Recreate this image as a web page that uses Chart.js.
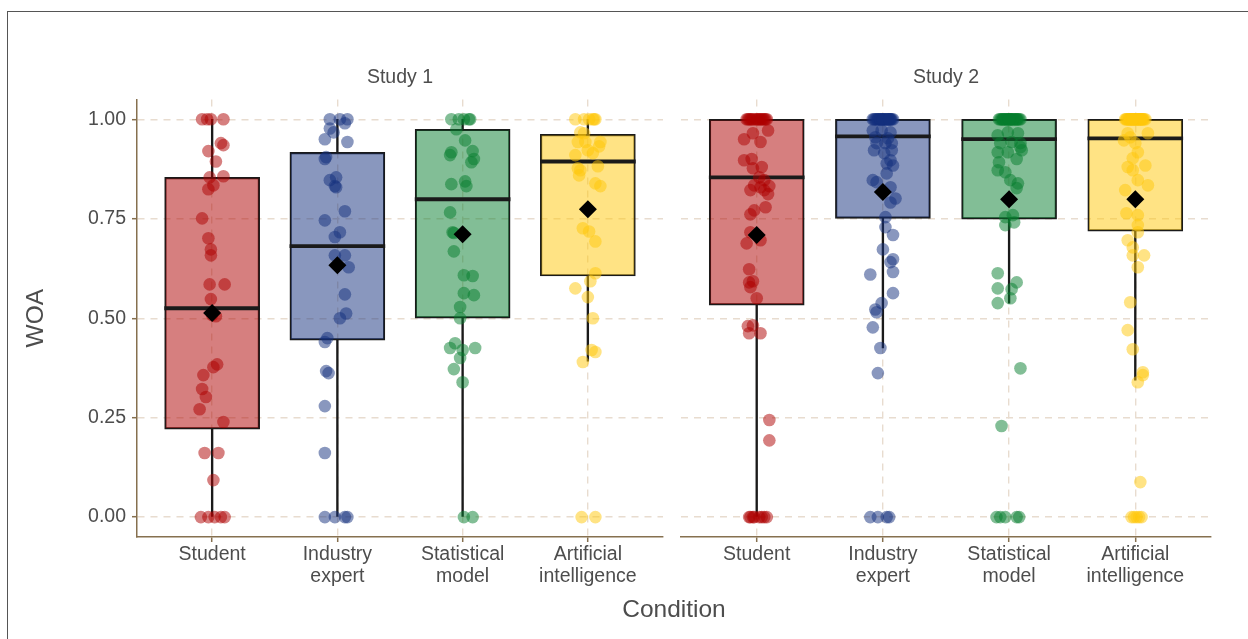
<!DOCTYPE html>
<html>
<head>
<meta charset="utf-8">
<title>WOA by condition</title>
<script src="https://cdn.jsdelivr.net/npm/chart.js@4.4.1/dist/chart.umd.min.js"></script>
<style>
  html, body { margin: 0; padding: 0; background: #fff; }
  body { position: relative; width: 1248px; height: 639px; overflow: hidden; font-family: "Liberation Sans", Arial, sans-serif; }
  #frame { position: absolute; left: 7px; top: 11px; width: 1250px; height: 640px; border-left: 1.5px solid #555; border-top: 1.5px solid #555; }
  #panel1 { position: absolute; left: 0; top: 0; }
  #panel2 { position: absolute; left: 672px; top: 0; }
  #xTitle { position: absolute; left: 474px; top: 594px; width: 400px; text-align: center; font-size: 24.5px; line-height: 30px; color: #4d4d4d; }
</style>
</head>
<body>
<div id="frame"></div>
<canvas id="panel1" width="672" height="639"></canvas>
<canvas id="panel2" width="576" height="639"></canvas>
<div id="xTitle">Condition</div>
<script>
// categories, panels, ticks
const categories = ['Student', ['Industry', 'expert'], ['Statistical', 'model'], ['Artificial', 'intelligence']];
const panelTitles = ['Study 1', 'Study 2'];
const yTicks = [0, 0.25, 0.5, 0.75, 1];

// box stats Study 1
const s1Q1 = [0.221, 0.445, 0.5, 0.606];
const s1Median = [0.525, 0.681, 0.799, 0.894];
const s1Q3 = [0.854, 0.917, 0.975, 0.962];
const s1Lower = [0, 0, 0, 0.392];
const s1Upper = [1, 1, 1, 1];
const s1Mean = [0.513, 0.633, 0.711, 0.774];

// box stats Study 2
const s2Q1 = [0.533, 0.751, 0.749, 0.719];
const s2Median = [0.854, 0.957, 0.95, 0.952];
const s2Q3 = [1, 1, 1, 1];
const s2Lower = [0, 0.425, 0.538, 0.344];
const s2Upper = [1, 1, 1, 1];
const s2Mean = [0.709, 0.817, 0.799, 0.799];

// single answers (WOA) and horizontal jitter, Study 1
const s1StudentWoa = [1, 1, 1, 1, 0.94, 0.935, 0.92, 0.894, 0.854, 0.857, 0.834, 0.824, 0.751, 0.701, 0.673, 0.658, 0.585, 0.585, 0.548, 0.508, 0.505, 0.384, 0.377, 0.357, 0.322, 0.302, 0.271, 0.239, 0.161, 0.161, 0.093, 0, 0, 0, 0, 0];
const s1StudentJit = [-0.08, -0.04, 0.09, -0.01, 0.07, 0.09, -0.03, 0.03, -0.02, 0.09, 0.01, -0.03, -0.08, -0.03, -0.01, -0.01, -0.02, 0.1, -0.01, 0, 0.03, 0.04, 0.01, -0.07, -0.08, -0.05, -0.1, 0.09, -0.06, 0.05, 0.01, -0.09, -0.03, 0.02, 0.07, 0.1];
const s1ExpertWoa = [1, 1, 1, 0.99, 0.977, 0.967, 0.95, 0.943, 0.905, 0.9, 0.854, 0.847, 0.832, 0.829, 0.769, 0.746, 0.716, 0.704, 0.658, 0.658, 0.628, 0.56, 0.512, 0.5, 0.45, 0.44, 0.367, 0.362, 0.279, 0.161, 0, 0, 0, 0];
const s1ExpertJit = [-0.06, 0.02, 0.08, 0.06, -0.06, -0.03, -0.1, 0.08, -0.09, -0.1, -0.01, -0.06, -0.02, -0.01, 0.06, -0.1, 0.02, -0.02, -0.02, 0.06, 0.09, 0.06, 0.07, 0.02, -0.08, -0.1, -0.09, -0.07, -0.1, -0.1, -0.1, -0.02, 0.06, 0.08];
const s1ModelWoa = [1, 1, 1, 1, 1, 0.975, 0.947, 0.917, 0.91, 0.92, 0.9, 0.892, 0.837, 0.844, 0.832, 0.766, 0.716, 0.714, 0.668, 0.608, 0.606, 0.563, 0.558, 0.528, 0.5, 0.437, 0.425, 0.42, 0.425, 0.4, 0.372, 0.339, 0, 0];
const s1ModelJit = [-0.09, -0.03, 0.01, 0.06, 0.05, -0.05, 0.02, -0.09, -0.1, 0.08, 0.09, 0.07, -0.09, 0.02, 0.03, -0.1, -0.08, -0.07, -0.07, 0.01, 0.08, 0.01, 0.09, -0.02, -0.02, -0.06, -0.1, 0, 0.1, -0.02, -0.07, 0, 0.01, 0.08];
const s1AiWoa = [1, 1, 1, 1, 1, 1, 0.967, 0.965, 0.943, 0.943, 0.943, 0.932, 0.922, 0.915, 0.91, 0.882, 0.877, 0.872, 0.859, 0.839, 0.832, 0.726, 0.718, 0.693, 0.613, 0.593, 0.575, 0.553, 0.5, 0.42, 0.415, 0.39, 0, 0];
const s1AiJit = [-0.1, -0.03, 0.04, 0.06, 0.01, 0.05, -0.06, -0.03, -0.08, -0.02, 0.1, 0.09, 0, 0.04, -0.1, 0.08, -0.08, -0.06, -0.07, 0.06, 0.1, -0.04, 0.01, 0.06, 0.06, 0.02, -0.1, 0, 0.04, 0.03, 0.06, -0.04, -0.05, 0.06];

// single answers (WOA) and horizontal jitter, Study 2
const s2StudentWoa = [1, 1, 1, 1, 1, 1, 1, 1, 1, 1, 1, 1, 1, 1, 1, 1, 0.965, 0.972, 0.95, 0.943, 0.897, 0.9, 0.88, 0.877, 0.854, 0.847, 0.834, 0.832, 0.829, 0.822, 0.812, 0.822, 0.779, 0.771, 0.761, 0.716, 0.688, 0.696, 0.623, 0.59, 0.593, 0.578, 0.55, 0.48, 0.482, 0.462, 0.462, 0.244, 0.193, 0, 0, 0, 0, 0, 0, 0, 0];
const s2StudentJit = [-0.08, -0.07, -0.05, -0.04, -0.03, -0.01, 0, 0.01, 0.02, 0.04, 0.05, 0.06, 0.07, 0.08, -0.06, 0.03, -0.03, 0.09, -0.1, 0.03, -0.1, -0.04, 0.04, -0.03, 0.02, 0.06, -0.02, 0.1, 0.03, 0.06, 0.09, -0.05, 0.07, -0.02, -0.05, -0.05, -0.08, 0.03, -0.06, -0.06, -0.03, -0.05, 0, -0.07, -0.03, -0.06, 0.03, 0.1, 0.1, -0.06, -0.05, -0.03, -0.02, 0.02, 0.04, 0.06, 0.08];
const s2ExpertWoa = [1, 1, 1, 1, 1, 1, 1, 1, 1, 1, 1, 1, 1, 1, 1, 1, 1, 1, 1, 1, 1, 1, 1, 1, 0.972, 0.972, 0.967, 0.955, 0.952, 0.94, 0.94, 0.94, 0.922, 0.915, 0.922, 0.897, 0.889, 0.884, 0.864, 0.847, 0.842, 0.829, 0.801, 0.791, 0.754, 0.729, 0.709, 0.673, 0.648, 0.641, 0.616, 0.61, 0.563, 0.538, 0.522, 0.515, 0.477, 0.425, 0.362, 0, 0, 0, 0];
const s2ExpertJit = [-0.07, -0.06, -0.04, -0.04, -0.02, -0.01, 0, 0.01, 0.01, 0.03, 0.04, 0.05, 0.06, 0.07, -0.05, 0.02, 0.06, -0.03, -0.08, 0.08, -0.02, 0.04, 0, 0.05, -0.08, -0.01, 0.06, -0.06, 0.04, -0.05, 0.02, 0.07, -0.07, 0.01, 0.07, 0.06, 0.03, 0.08, 0.03, -0.08, -0.05, 0.06, 0.1, 0.06, 0.02, 0.02, 0.08, 0, 0.08, 0.06, 0.08, -0.1, 0.08, -0.01, -0.06, -0.05, -0.08, -0.02, -0.04, -0.1, -0.04, 0.03, 0.05];
const s2ModelWoa = [1, 1, 1, 1, 1, 1, 1, 1, 1, 1, 1, 1, 1, 1, 1, 1, 1, 1, 1, 1, 1, 1, 1, 1, 0.96, 0.967, 0.965, 0.94, 0.943, 0.94, 0.917, 0.917, 0.922, 0.93, 0.892, 0.9, 0.872, 0.867, 0.847, 0.839, 0.827, 0.754, 0.759, 0.734, 0.741, 0.613, 0.59, 0.575, 0.573, 0.538, 0.55, 0.374, 0.229, 0, 0, 0, 0, 0];
const s2ModelJit = [-0.08, -0.07, -0.05, -0.04, -0.03, -0.02, -0.01, 0, 0.01, 0.02, 0.03, 0.05, 0.06, 0.07, 0.08, 0.09, -0.06, 0.04, -0.02, 0.01, 0.06, -0.05, 0.03, 0, -0.09, -0.01, 0.07, -0.07, 0.02, 0.09, -0.09, -0.01, 0.1, 0.09, -0.08, 0.06, -0.09, -0.03, 0.01, 0.07, 0.06, -0.03, 0.03, -0.03, 0.04, -0.09, 0.06, -0.09, 0.02, -0.09, 0.01, 0.09, -0.06, -0.1, -0.07, -0.03, 0.06, 0.08];
const s2AiWoa = [1, 1, 1, 1, 1, 1, 1, 1, 1, 1, 1, 1, 1, 1, 1, 1, 1, 1, 1, 1, 1, 1, 1, 1, 1, 1, 1, 1, 1, 1, 0.965, 0.965, 0.947, 0.94, 0.955, 0.917, 0.902, 0.88, 0.884, 0.872, 0.847, 0.834, 0.822, 0.764, 0.759, 0.734, 0.716, 0.696, 0.678, 0.658, 0.658, 0.628, 0.54, 0.47, 0.422, 0.364, 0.357, 0.339, 0.088, 0, 0, 0, 0, 0];
const s2AiJit = [-0.08, -0.07, -0.06, -0.05, -0.05, -0.04, -0.03, -0.02, -0.01, -0.01, 0, 0, 0.01, 0.02, 0.02, 0.03, 0.04, 0.04, 0.05, 0.06, 0.07, 0.08, -0.07, -0.03, 0.01, 0.05, -0.04, 0.03, 0.06, -0.02, -0.06, 0.1, -0.09, 0, -0.04, 0.02, -0.02, -0.06, 0.08, -0.02, 0.02, 0.1, -0.08, -0.07, 0.02, 0.02, 0.02, -0.06, -0.02, 0.07, -0.02, 0.02, -0.04, -0.06, -0.02, 0.06, 0.06, 0.02, 0.04, -0.03, -0.01, 0.01, 0.03, 0.05];

// colours per condition
const boxColors = ['rgba(173,0,0,0.5)', 'rgba(20,48,125,0.5)', 'rgba(5,125,45,0.5)', 'rgba(255,200,10,0.5)'];
const pointColors = ['rgba(173,0,0,0.5)', 'rgba(20,48,125,0.5)', 'rgba(5,125,45,0.5)', 'rgba(255,200,10,0.5)'];
const textColor = '#4d4d4d';
const axisColor = '#86704f';
const gridColor = '#e8dccf';

Chart.defaults.font.family = '"Liberation Sans", Arial, sans-serif';

const study1 = {
  q1: s1Q1, med: s1Median, q3: s1Q3, lo: s1Lower, hi: s1Upper, mean: s1Mean,
  woa: [s1StudentWoa, s1ExpertWoa, s1ModelWoa, s1AiWoa],
  jit: [s1StudentJit, s1ExpertJit, s1ModelJit, s1AiJit]
};
const study2 = {
  q1: s2Q1, med: s2Median, q3: s2Q3, lo: s2Lower, hi: s2Upper, mean: s2Mean,
  woa: [s2StudentWoa, s2ExpertWoa, s2ModelWoa, s2AiWoa],
  jit: [s2StudentJit, s2ExpertJit, s2ModelJit, s2AiJit]
};

function drawPanel(canvasId, title, panel, isLeft) {
  const idx = [0, 1, 2, 3];
  const barBase = { type: 'bar', grouped: false, categoryPercentage: 1, barPercentage: 1 };
  const datasets = [];

  // whiskers
  datasets.push(Object.assign({}, barBase, {
    order: 4, barThickness: 1.7, maxBarThickness: 1.7,
    backgroundColor: '#1a1a1a', borderWidth: 0,
    data: idx.flatMap(i => [
      { x: i + 1, y: [panel.lo[i], panel.q1[i]] },
      { x: i + 1, y: [panel.q3[i], panel.hi[i]] }
    ])
  }));
  // boxes
  datasets.push(Object.assign({}, barBase, {
    order: 3, barThickness: 95, maxBarThickness: 95,
    backgroundColor: boxColors, borderColor: '#1a1a1a', borderWidth: 1.5, borderSkipped: false,
    data: idx.map(i => ({ x: i + 1, y: [panel.q1[i], panel.q3[i]] }))
  }));
  // median line
  datasets.push(Object.assign({}, barBase, {
    order: 2, barThickness: 95, maxBarThickness: 95,
    backgroundColor: '#1a1a1a', borderWidth: 0,
    data: idx.map(i => ({ x: i + 1, y: [panel.med[i] - 0.004, panel.med[i] + 0.004] }))
  }));
  // jittered answers
  idx.forEach(i => {
    datasets.push({
      type: 'scatter', order: 1,
      backgroundColor: pointColors[i], borderWidth: 0, pointRadius: 6.3, pointHoverRadius: 6.3,
      data: panel.woa[i].map((v, k) => ({ x: i + 1 + panel.jit[i][k], y: v }))
    });
  });
  // means
  datasets.push({
    type: 'scatter', order: 0,
    pointStyle: 'rectRot', pointRadius: 9, pointHoverRadius: 9,
    backgroundColor: '#000', borderWidth: 0,
    data: idx.map(i => ({ x: i + 1, y: panel.mean[i] }))
  });

  const ctx = document.getElementById(canvasId).getContext('2d');
  return new Chart(ctx, {
    type: 'scatter',
    data: { datasets: datasets },
    options: {
      responsive: false,
      animation: false,
      events: [],
      layout: { padding: { left: 0, right: isLeft ? 7 : 37, top: 0, bottom: 0 } },
      plugins: {
        legend: { display: false },
        tooltip: { enabled: false },
        title: {
          display: true, text: title, fullSize: false, color: textColor,
          font: { size: 19.5, weight: 'normal', lineHeight: 1.2 },
          padding: { top: 66, bottom: 10 }
        }
      },
      scales: {
        x: {
          type: 'linear', min: 0.4, max: 4.6, offset: false,
          afterBuildTicks: s => { s.ticks = [1, 2, 3, 4].map(v => ({ value: v })); },
          afterFit: s => { s.height = 102; },
          ticks: {
            callback: v => categories[v - 1], color: textColor,
            font: { size: 19.5, lineHeight: 1.13 }, padding: 2,
            maxRotation: 0, autoSkip: false
          },
          grid: { color: gridColor, lineWidth: 1.4, offset: false, tickLength: 5, tickColor: axisColor, tickWidth: 1.5, tickBorderDash: [] },
          border: { display: true, color: axisColor, width: 1.5, dash: [7, 6] }
        },
        y: {
          type: 'linear', min: -0.05, max: 1.05,
          afterBuildTicks: s => { s.ticks = yTicks.map(v => ({ value: v })); },
          afterFit: s => { s.width = isLeft ? 137 : 8; },
          ticks: {
            display: isLeft, callback: v => v.toFixed(2), color: textColor,
            font: { size: 19.5 }, padding: 6
          },
          grid: { color: gridColor, lineWidth: 1.4, drawTicks: isLeft, tickLength: 5, tickColor: axisColor, tickWidth: 1.5, tickBorderDash: [] },
          border: { display: isLeft, color: axisColor, width: 1.5, dash: [7, 6] },
          title: {
            display: isLeft, text: 'WOA', color: textColor,
            font: { size: 24.5 }, padding: { top: 22, bottom: 0 }
          }
        }
      }
    }
  });
}

drawPanel('panel1', panelTitles[0], study1, true);
drawPanel('panel2', panelTitles[1], study2, false);
</script>
</body>
</html>
